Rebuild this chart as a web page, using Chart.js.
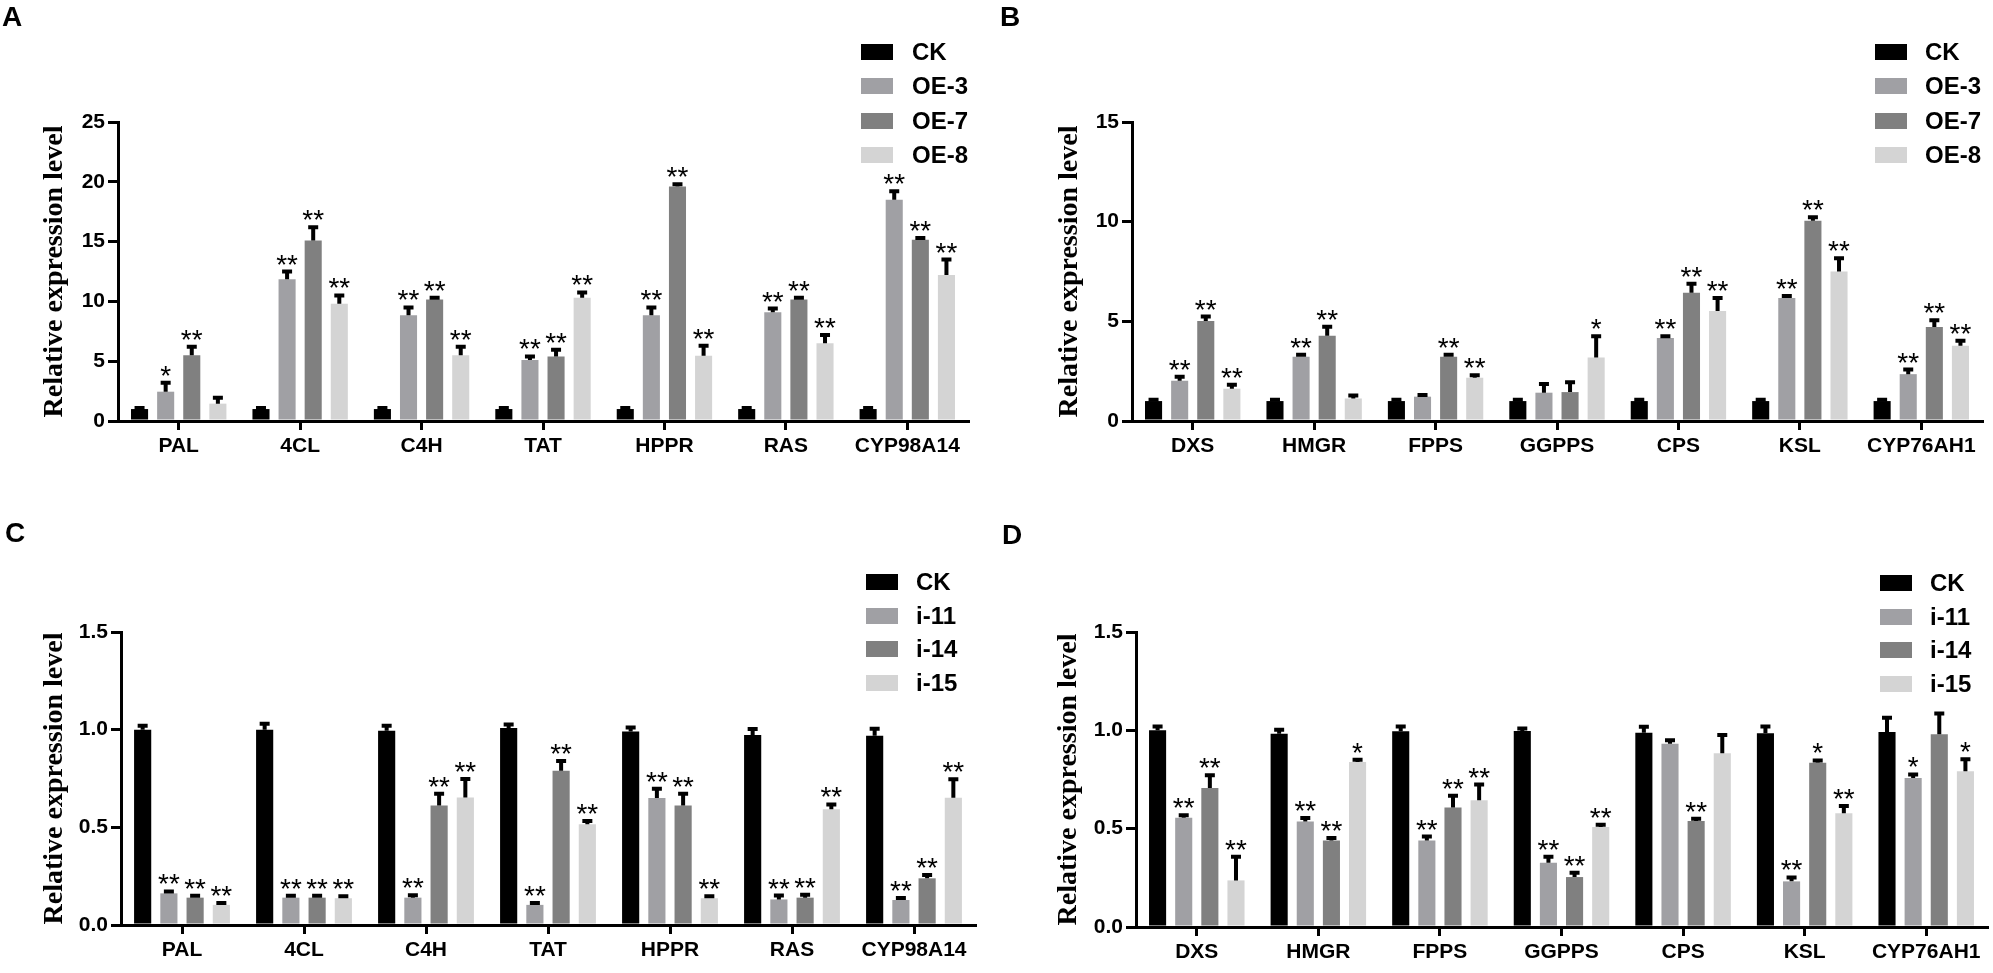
<!DOCTYPE html>
<html>
<head>
<meta charset="utf-8">
<title>Relative expression level</title>
<script src="https://cdn.jsdelivr.net/npm/chart.js@4/dist/chart.umd.min.js"></script>
<style>
  html, body { margin: 0; padding: 0; background: #fff; }
  body { width: 1993px; height: 973px; position: relative; overflow: hidden; font-family: 'Liberation Sans', Arial, sans-serif; color: #000; }
  .panel { position: absolute; }
  .panel canvas { position: absolute; left: 0; top: 0; }
  .letter { position: absolute; font-weight: bold; font-size: 28px; line-height: 28px; }
  .legend { position: absolute; }
  .legend .row { display: flex; align-items: center; }
  .legend .sw { width: 32px; height: 16px; }
  .legend .lbl { font-weight: bold; font-size: 24px; line-height: 24px; }
</style>
</head>
<body>
<div class="panel" id="panelA" style="left:0;top:0;width:990px;height:486px;"><canvas></canvas></div>
<div class="panel" id="panelB" style="left:990px;top:0;width:1003px;height:486px;"><canvas></canvas></div>
<div class="panel" id="panelC" style="left:0;top:486px;width:990px;height:487px;"><canvas></canvas></div>
<div class="panel" id="panelD" style="left:990px;top:486px;width:1003px;height:487px;"><canvas></canvas></div>

<script>
// categories
const phenolGenes = ['PAL', '4CL', 'C4H', 'TAT', 'HPPR', 'RAS', 'CYP98A14'];
const terpGenes = ['DXS', 'HMGR', 'FPPS', 'GGPPS', 'CPS', 'KSL', 'CYP76AH1'];
const oeLines = ['CK', 'OE-3', 'OE-7', 'OE-8'];
const rnaiLines = ['CK', 'i-11', 'i-14', 'i-15'];
const lineColors = ['#000000', '#a0a0a4', '#808080', '#d4d4d4'];

// A: phenolic acid genes, overexpression
const ckA = [1, 1, 1, 1, 1, 1, 1];
const ckErrA = [0.08, 0.08, 0.08, 0.08, 0.08, 0.08, 0.08];
const oe3A = [2.45, 11.85, 8.85, 5.1, 8.85, 9.1, 18.5];
const oe3ErrA = [0.75, 0.65, 0.65, 0.3, 0.65, 0.3, 0.7];
const oe7A = [5.5, 15.1, 10.15, 5.4, 19.6, 10.15, 15.15];
const oe7ErrA = [0.7, 1.1, 0.15, 0.55, 0.2, 0.15, 0.15];
const oe8A = [1.45, 9.8, 5.5, 10.3, 5.45, 6.5, 12.2];
const oe8ErrA = [0.5, 0.7, 0.7, 0.45, 0.85, 0.7, 1.3];
const oe3SigA = ['*', '**', '**', '**', '**', '**', '**'];
const oe7SigA = ['**', '**', '**', '**', '**', '**', '**'];
const oe8SigA = ['', '**', '**', '**', '**', '**', '**'];

// B: tanshinone genes, overexpression
const ckB = [1, 1, 1, 1, 1, 1, 1];
const ckErrB = [0.06, 0.06, 0.06, 0.06, 0.06, 0.06, 0.06];
const oe3B = [2.02, 3.22, 1.22, 1.42, 4.17, 6.17, 2.35];
const oe3ErrB = [0.2, 0.1, 0.08, 0.43, 0.08, 0.1, 0.23];
const oe7B = [5.02, 4.28, 3.22, 1.45, 6.43, 10.05, 4.72];
const oe7ErrB = [0.22, 0.45, 0.1, 0.5, 0.45, 0.17, 0.33];
const oe8B = [1.62, 1.13, 2.17, 3.18, 5.52, 7.5, 3.77];
const oe8ErrB = [0.2, 0.15, 0.13, 1.07, 0.65, 0.67, 0.25];
const oe3SigB = ['**', '**', '', '', '**', '**', '**'];
const oe7SigB = ['**', '**', '**', '', '**', '**', '**'];
const oe8SigB = ['**', '', '**', '*', '**', '**', '**'];

// C: phenolic acid genes, RNAi
const ckC = [1.0, 1.0, 0.995, 1.009, 0.991, 0.973, 0.969];
const ckErrC = [0.02, 0.03, 0.025, 0.017, 0.02, 0.03, 0.036];
const i11C = [0.162, 0.14, 0.14, 0.103, 0.65, 0.131, 0.128];
const i11ErrC = [0.01, 0.01, 0.012, 0.01, 0.048, 0.02, 0.01];
const i14C = [0.14, 0.14, 0.612, 0.79, 0.612, 0.14, 0.239];
const i14ErrC = [0.01, 0.01, 0.06, 0.05, 0.06, 0.015, 0.017];
const i15C = [0.103, 0.137, 0.653, 0.516, 0.137, 0.592, 0.652];
const i15ErrC = [0.01, 0.01, 0.094, 0.017, 0.01, 0.025, 0.094];
const i11SigC = ['**', '**', '**', '**', '**', '**', '**'];
const i14SigC = ['**', '**', '**', '**', '**', '**', '**'];
const i15SigC = ['**', '**', '**', '**', '**', '**', '**'];

// D: tanshinone genes, RNAi
const ckD = [1.0, 0.983, 0.995, 0.997, 0.988, 0.985, 0.992];
const ckErrD = [0.02, 0.02, 0.025, 0.012, 0.03, 0.034, 0.072];
const i11D = [0.556, 0.537, 0.44, 0.327, 0.932, 0.232, 0.758];
const i11ErrD = [0.012, 0.017, 0.02, 0.03, 0.017, 0.02, 0.018];
const i14D = [0.707, 0.44, 0.607, 0.254, 0.539, 0.835, 0.98];
const i14ErrD = [0.065, 0.013, 0.06, 0.022, 0.012, 0.012, 0.105];
const i15D = [0.237, 0.839, 0.644, 0.508, 0.883, 0.578, 0.792];
const i15ErrD = [0.12, 0.012, 0.08, 0.012, 0.093, 0.037, 0.061];
const i11SigD = ['**', '**', '**', '**', '', '**', '*'];
const i14SigD = ['**', '**', '**', '**', '**', '*', ''];
const i15SigD = ['**', '*', '**', '**', '', '**', '*'];

const noSig = ['', '', '', '', '', '', ''];

Chart.defaults.font.family = "'Liberation Sans', Arial, sans-serif";
Chart.defaults.color = '#000';

// one-sided error bars with significance stars above them
const errorBarPlugin = {
    id: 'errorBars',
    afterDatasetsDraw(chart) {
        const ctx = chart.ctx;
        const yScale = chart.scales.y;
        ctx.save();
        ctx.strokeStyle = '#000';
        ctx.fillStyle = '#000';
        ctx.lineWidth = 4;
        ctx.font = "28px 'Liberation Sans', Arial, sans-serif";
        ctx.textAlign = 'center';
        ctx.textBaseline = 'alphabetic';
        chart.data.datasets.forEach((ds, i) => {
            chart.getDatasetMeta(i).data.forEach((bar, j) => {
                const top = yScale.getPixelForValue(ds.data[j] + ds.errors[j]);
                ctx.beginPath();
                ctx.moveTo(bar.x, bar.y);
                ctx.lineTo(bar.x, top);
                ctx.moveTo(bar.x - 5, top);
                ctx.lineTo(bar.x + 5, top);
                ctx.stroke();
                if (ds.stars[j]) {
                    ctx.fillText(ds.stars[j], bar.x, top + 2);
                }
            });
        });
        ctx.restore();
    }
};

function buildPanel(cfg) {
    const wrap = document.getElementById(cfg.id);
    const canvas = wrap.querySelector('canvas');
    canvas.width = cfg.width;
    canvas.height = cfg.height;
    canvas.style.width = cfg.width + 'px';
    canvas.style.height = cfg.height + 'px';

    const datasets = cfg.series.map((name, i) => ({
        label: name,
        data: cfg.values[i],
        errors: cfg.errors[i],
        stars: cfg.stars[i],
        backgroundColor: lineColors[i],
        borderWidth: 0,
        barPercentage: 0.654,
        categoryPercentage: 0.86
    }));

    const chart = new Chart(canvas, {
        type: 'bar',
        data: { labels: cfg.genes, datasets: datasets },
        options: {
            responsive: false,
            animation: false,
            devicePixelRatio: 1,
            layout: {
                padding: { left: 0, top: cfg.area.top, right: cfg.width - cfg.area.right, bottom: 0 }
            },
            plugins: {
                legend: { display: false },
                tooltip: { enabled: false }
            },
            scales: {
                x: {
                    grid: { drawOnChartArea: false, offset: false, tickLength: 9, lineWidth: 3, color: '#000' },
                    border: { display: true, width: 3, color: '#000' },
                    ticks: { font: { size: 21, weight: 'bold' }, color: '#000', padding: 4, maxRotation: 0, autoSkip: false },
                    afterFit: s => { s.height = cfg.height - cfg.area.bottom; }
                },
                y: {
                    min: 0,
                    max: cfg.yMax,
                    ticks: { stepSize: cfg.step, font: { size: 21, weight: 'bold' }, color: '#000', padding: 3, callback: cfg.fmt },
                    grid: { drawOnChartArea: false, tickLength: 10, lineWidth: 3, color: '#000' },
                    border: { display: true, width: 3, color: '#000' },
                    title: {
                        display: true,
                        text: 'Relative expression level',
                        color: '#000',
                        font: { family: "'Liberation Serif', 'Times New Roman', serif", size: 28, weight: 'bold' },
                        padding: { top: cfg.titlePad, bottom: 0 }
                    },
                    afterFit: s => { s.width = cfg.area.left; }
                }
            }
        },
        plugins: [errorBarPlugin]
    });

    // panel letter
    const letter = document.createElement('div');
    letter.className = 'letter';
    letter.textContent = cfg.letter;
    letter.style.left = cfg.letterPos[0] + 'px';
    letter.style.top = cfg.letterPos[1] + 'px';
    wrap.appendChild(letter);

    // legend from the datasets
    const legend = document.createElement('div');
    legend.className = 'legend';
    legend.style.left = cfg.legendPos[0] + 'px';
    legend.style.top = cfg.legendPos[1] + 'px';
    chart.data.datasets.forEach(ds => {
        const row = document.createElement('div');
        row.className = 'row';
        row.style.height = cfg.legendRow + 'px';
        row.innerHTML = `<div class="sw" style="background:${ds.backgroundColor}"></div>` +
            `<div class="lbl" style="margin-left:${cfg.legendGap}px">${ds.label}</div>`;
        legend.appendChild(row);
    });
    wrap.appendChild(legend);
}

const intFmt = v => v;
const decFmt = v => Number(v).toFixed(1);

buildPanel({
    id: 'panelA', letter: 'A', letterPos: [2, 3], width: 990, height: 486,
    area: { left: 118, right: 968, top: 122, bottom: 421 }, titlePad: 38,
    yMax: 25, step: 5, fmt: intFmt, genes: phenolGenes, series: oeLines,
    values: [ckA, oe3A, oe7A, oe8A], errors: [ckErrA, oe3ErrA, oe7ErrA, oe8ErrA],
    stars: [noSig, oe3SigA, oe7SigA, oe8SigA],
    legendPos: [861, 35], legendRow: 34.3, legendGap: 19
});

buildPanel({
    id: 'panelB', letter: 'B', letterPos: [10, 3], width: 1003, height: 486,
    area: { left: 142, right: 992, top: 122, bottom: 421 }, titlePad: 63,
    yMax: 15, step: 5, fmt: intFmt, genes: terpGenes, series: oeLines,
    values: [ckB, oe3B, oe7B, oe8B], errors: [ckErrB, oe3ErrB, oe7ErrB, oe8ErrB],
    stars: [noSig, oe3SigB, oe7SigB, oe8SigB],
    legendPos: [885, 35], legendRow: 34.3, legendGap: 18
});

buildPanel({
    id: 'panelC', letter: 'C', letterPos: [5, 33], width: 990, height: 487,
    area: { left: 121, right: 975, top: 146, bottom: 439 }, titlePad: 38,
    yMax: 1.5, step: 0.5, fmt: decFmt, genes: phenolGenes, series: rnaiLines,
    values: [ckC, i11C, i14C, i15C], errors: [ckErrC, i11ErrC, i14ErrC, i15ErrC],
    stars: [noSig, i11SigC, i14SigC, i15SigC],
    legendPos: [866, 79], legendRow: 33.7, legendGap: 18
});

buildPanel({
    id: 'panelD', letter: 'D', letterPos: [12, 35], width: 1003, height: 487,
    area: { left: 146, right: 997, top: 146, bottom: 441 }, titlePad: 62,
    yMax: 1.5, step: 0.5, fmt: decFmt, genes: terpGenes, series: rnaiLines,
    values: [ckD, i11D, i14D, i15D], errors: [ckErrD, i11ErrD, i14ErrD, i15ErrD],
    stars: [noSig, i11SigD, i14SigD, i15SigD],
    legendPos: [890, 80], legendRow: 33.7, legendGap: 18
});
</script>
</body>
</html>
